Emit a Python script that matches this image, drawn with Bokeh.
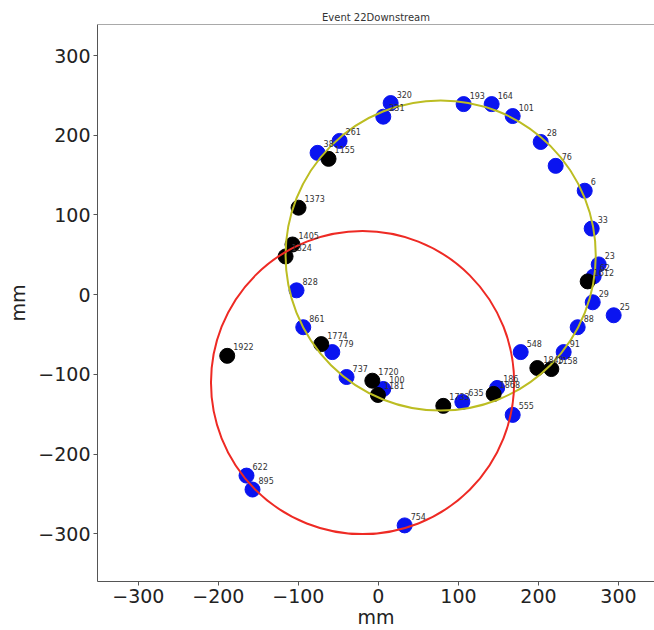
from bokeh.plotting import figure
from bokeh.models import (Range1d, FixedTicker, CustomJSTickFormatter, ColumnDataSource, Span)
from bokeh.core.properties import value
from bokeh.embed import file_html
from bokeh.resources import INLINE

title_text = "Event 22Downstream"
x_label = "mm"
y_label = "mm"
x_ticks = [-300, -200, -100, 0, 100, 200, 300]
y_ticks = [-300, -200, -100, 0, 100, 200, 300]

blue_x = [15.3, 6.1, -48.5, -76.0, 106.5, 141.5, 167.8, 202.8, 221.5, 257.8, 266.5, 275.3,
          269.0, 267.8, 294.0, 249.0, 231.5, 177.8, 167.8, 148.4, 104.9, 6.1, -39.8, -57.6,
          -93.9, -102.3, -164.8, -157.3, 32.8]
blue_y = [240.4, 223.3, 192.9, 177.9, 239.1, 239.1, 224.1, 191.6, 161.6, 130.4, 82.9, 37.9,
          22.9, -9.6, -25.9, -40.9, -72.1, -72.1, -150.9, -117.1, -134.6, -118.4, -103.4, -72.1,
          -40.9, 5.4, -227.1, -244.6, -289.6]
blue_labels = ["320", "231", "261", "38", "193", "164", "101", "28", "76", "6", "33", "23",
               "62", "29", "25", "88", "91", "548", "555", "186", "635", "100", "737", "779",
               "861", "828", "622", "895", "754"]

black_x = [-62.3, -99.8, -107.3, -116.0, -188.9, -71.4, -7.6, -0.6, 81.1, 144.0, 198.6, 216.1, 261.5]
black_y = [170.4, 109.1, 62.9, 47.9, -76.8, -62.1, -108.0, -125.9, -139.6, -124.6, -92.1, -93.4, 16.6]
black_labels = ["1155", "1373", "1405", "1324", "1922", "1774", "1720", "1181", "1733", "1868",
                "1843", "1158", "1612"]

yellow_cx, yellow_cy, yellow_r = 77.8, 49.1, 193.8
red_cx, red_cy, red_r = -19.8, -110.3, 189.4

FONT = "DejaVu Sans"

p = figure(width=654, height=630, x_range=Range1d(-351, 345), y_range=Range1d(-360, 339),
           output_backend="svg", toolbar_location=None,
           min_border_left=97, min_border_right=0, min_border_top=24, min_border_bottom=47,
           title=title_text)
p.title.align = "center"
p.title.text_font = FONT
p.title.text_font_size = "10px"
p.title.text_font_style = "normal"
p.title.text_color = "#333333"
p.title.standoff = 3

p.grid.visible = False
p.outline_line_color = None
p.background_fill_color = "white"
p.border_fill_color = "white"

fmt = CustomJSTickFormatter(code="return tick < 0 ? '\\u2212' + Math.abs(tick) : String(tick);")
for ax, ticks, lab in ((p.xaxis[0], x_ticks, x_label), (p.yaxis[0], y_ticks, y_label)):
    ax.ticker = FixedTicker(ticks=ticks)
    ax.formatter = fmt
    ax.axis_label = lab
    ax.axis_label_text_font = FONT
    ax.axis_label_text_font_size = "19px"
    ax.axis_label_text_font_style = "normal"
    ax.axis_label_text_color = "#222222"
    ax.major_label_text_font = FONT
    ax.major_label_text_font_size = "19px"
    ax.major_label_text_color = "#222222"
    ax.axis_line_color = "#555555"
    ax.major_tick_line_color = "#555555"
    ax.major_tick_out = 4
    ax.major_tick_in = 0
    ax.minor_tick_line_color = None
    ax.major_label_standoff = 3
p.xaxis[0].axis_label_standoff = 0
p.yaxis[0].axis_label_standoff = 6

# top frame line (right side is cropped in the reference)
p.add_layout(Span(location=339, dimension="width", line_color="#555555", line_width=1))

blue_src = ColumnDataSource(dict(x=blue_x, y=blue_y, t=blue_labels))
black_src = ColumnDataSource(dict(x=black_x, y=black_y, t=black_labels))

p.scatter("x", "y", source=blue_src, size=15, fill_color="#0a14f0", line_color="#0a14f0")
p.scatter("x", "y", source=black_src, size=15, fill_color="black", line_color="black")

p.circle(x=[yellow_cx], y=[yellow_cy], radius=yellow_r, fill_color=None,
         line_color="#bcbd22", line_width=2)
p.circle(x=[red_cx], y=[red_cy], radius=red_r, fill_color=None,
         line_color="#ee2a24", line_width=2)

for src in (blue_src, black_src):
    p.text("x", "y", text="t", source=src, x_offset=6, y_offset=-9,
           text_font=value(FONT), text_font_size="8px", text_color="#333333",
           text_baseline="middle", text_align="left")

open("out.html", "w").write(file_html(p, INLINE))
